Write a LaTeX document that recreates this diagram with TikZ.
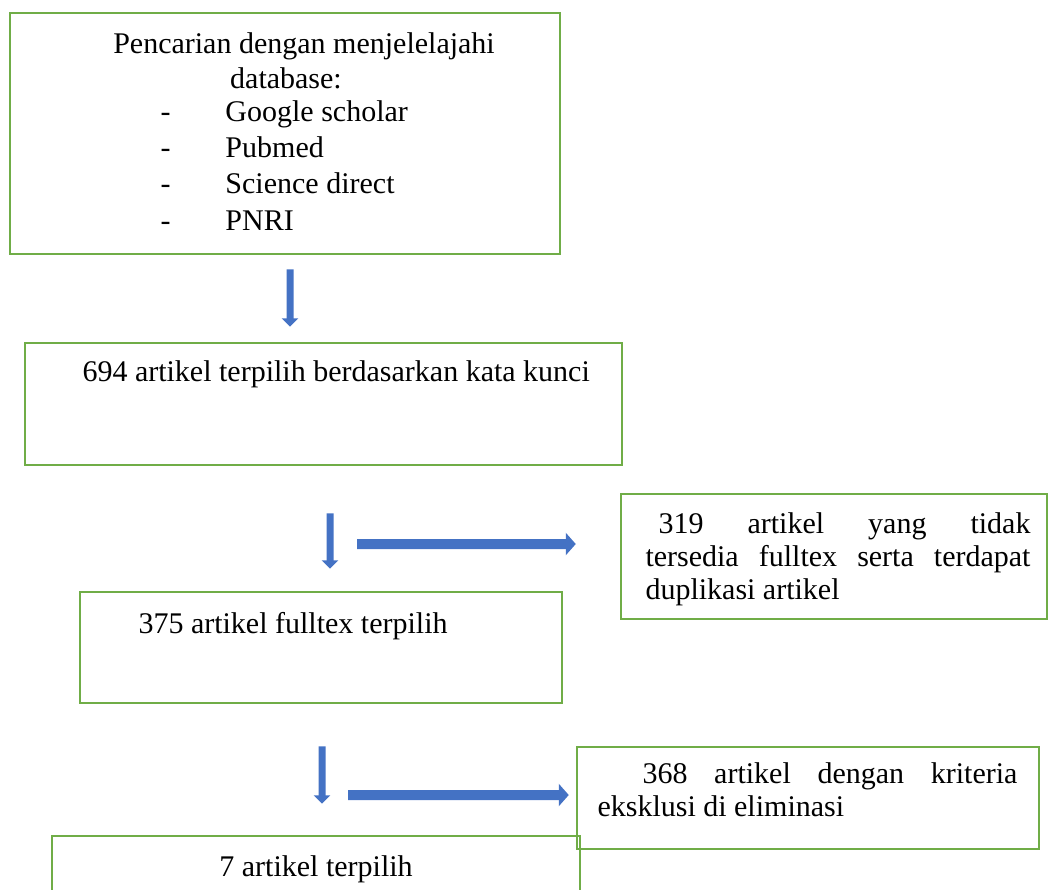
\documentclass[tikz,border=0pt]{standalone}
\usepackage{fontspec}
\setmainfont{Liberation Serif}
\usepackage{tikz}
\usetikzlibrary{arrows.meta, positioning, fit}
\definecolor{boxgreen}{HTML}{70AD47}
\definecolor{flowblue}{HTML}{4472C4}
\newcommand{\dbitem}[1]{\makebox[26pt][l]{-}#1}

\begin{document}
\begin{tikzpicture}[
    x=0.4pt, y=-0.4pt,
    box/.style={draw=boxgreen, line width=1pt, inner sep=0pt},
    txt/.style={font=\fontsize{12}{14.4}\selectfont, inner sep=0pt},
    jtxt/.style={font=\fontsize{12}{13.2}\selectfont, inner sep=0pt, align=justify, anchor=base west},
    downarrow/.style={draw=flowblue, line width=2.8pt, -{Triangle[width=6.4pt, length=3.4pt]}},
    sidearrow/.style={draw=flowblue, line width=4pt, -{Triangle[width=8.8pt, length=4pt]}},
]
    \useasboundingbox (0,0) rectangle (1051,889);

    % Boxes
    \node[box, fit={(10,13) (560,254)}] (search) {};
    \node[box, fit={(25,343) (622,465)}] (found) {};
    \node[box, fit={(621,494) (1047,619)}] (nofull) {};
    \node[box, fit={(80,592) (562,703)}] (fulltext) {};
    \node[box, fit={(577,747) (1039,849)}] (excluded) {};
    \node[box, fit={(52,836) (580,920)}] (chosen) {};

    % Texts (base anchor sits on the last line)
    \node[txt, font=\fontsize{12}{14}\selectfont, align=center, anchor=base] (searchhead) at (286,88)
        {\hspace*{14.4pt}Pencarian dengan menjelelajahi\\database:};
    \node[txt, font=\fontsize{12}{14.5}\selectfont, align=left, anchor=base west] (dblist) at (160,230)
        {\dbitem{Google scholar}\\\dbitem{Pubmed}\\\dbitem{Science direct}\\\dbitem{PNRI}};
    \node[txt, anchor=base west] (foundtxt) at (82,381) {694 artikel terpilih berdasarkan kata kunci};
    \node[jtxt, text width=154pt] (nofulltxt) at (645,533)
        {\hspace*{5.2pt}319 artikel yang tidak\linebreak tersedia fulltex serta terdapat\linebreak duplikasi artikel};
    \node[txt, anchor=base west] (fulltxt) at (138,633) {375 artikel fulltex terpilih};
    \node[jtxt, text width=168pt] (excltxt) at (597,783)
        {\hspace*{18pt}368 artikel dengan kriteria\linebreak eksklusi di eliminasi};
    \node[txt, anchor=base] (chosentxt) at (316,876) {7 artikel terpilih};

    % Arrows
    \coordinate (skipa) at (357,544);
    \coordinate (skipb) at (348,795);
    \draw[downarrow] ([xshift=2pt, yshift=-5.6pt]search.south) -- ([xshift=-13.4pt, yshift=6pt]found.north);
    \draw[downarrow] ([xshift=2.6pt, yshift=-18.8pt]found.south) -- ([xshift=3.6pt, yshift=8.8pt]fulltext.north);
    \draw[sidearrow] (skipa) -- ([xshift=-17.6pt, yshift=5pt]nofull.west);
    \draw[downarrow] ([xshift=0.4pt, yshift=-16.8pt]fulltext.south) -- ([xshift=2.4pt, yshift=12.4pt]chosen.north);
    \draw[sidearrow] (skipb) -- ([xshift=-2.8pt, yshift=1.2pt]excluded.west);

\end{tikzpicture}
\end{document}
